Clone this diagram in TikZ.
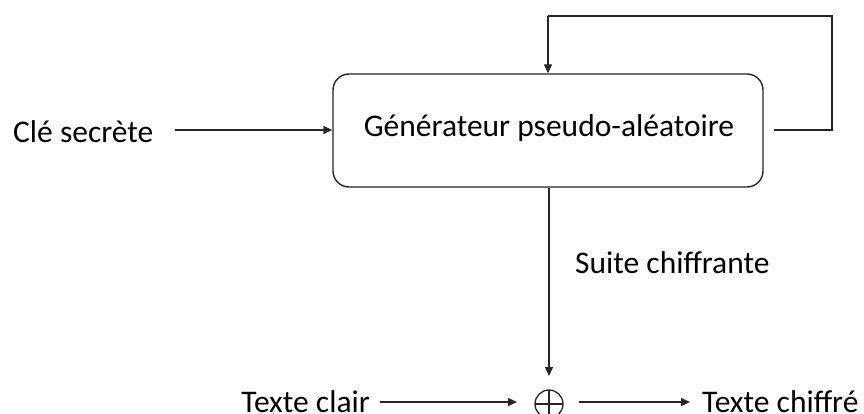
\documentclass[tikz,border=0pt]{standalone}
\usepackage{fontspec}
\setmainfont{Carlito}
\usetikzlibrary{arrows.meta}
\begin{document}
\begin{tikzpicture}[x=1pt,y=-1pt,
  every node/.style={font=\fontsize{31.5}{38}\selectfont, inner sep=0pt},
  flow/.style={line width=1.4pt, draw=black!85, -{Triangle[length=9pt,width=8pt]}},
  wire/.style={line width=1.4pt, draw=black!85},
  genbox/.style={draw=black!85, line width=1.4pt, rounded corners=16pt, fill=white,
    minimum width=430pt, minimum height=113pt}]
\useasboundingbox (0,0) rectangle (864,414);
% generator block and its label
\node[genbox] (gen) at (548,130.5) {};
\node[anchor=base] (genlabel) at (549,137) {Générateur pseudo-aléatoire};
\node[anchor=base west] (key) at (13,143) {Clé secrète};
\coordinate (keyend) at (175,130);
\draw[flow] (keyend) -- (gen.west |- keyend);
% feedback loop
\coordinate (fbstart) at (774,130);
\coordinate (fbtop) at (548,16);
\draw[wire] (fbstart) -- (832,130) -- (832,16) -- (fbtop);
\draw[flow] (fbtop) -- (gen.north);
% keystream
\node[anchor=base west] (ks) at (575,273) {Suite chiffrante};
\coordinate (xorc) at (549,404);
\coordinate (xortop) at (549,376);
\draw[flow] (gen.south -| xorc) -- (xortop);
\draw[line width=1.3pt, black!85] (xorc) circle (14pt);
\draw[line width=1.3pt, black!85] (535,404) -- (563,404) (549,390) -- (549,418);
% plaintext in, ciphertext out
\node[anchor=base east] (plain) at (370,412) {Texte clair};
\coordinate (plainend) at (380,402);
\coordinate (xorin) at (517,402);
\draw[flow] (plainend) -- (xorin);
\node[anchor=base west] (cipher) at (702,412) {Texte chiffré};
\coordinate (xorout) at (579,402);
\coordinate (cipherin) at (690,402);
\draw[flow] (xorout) -- (cipherin);
\end{tikzpicture}
\end{document}
